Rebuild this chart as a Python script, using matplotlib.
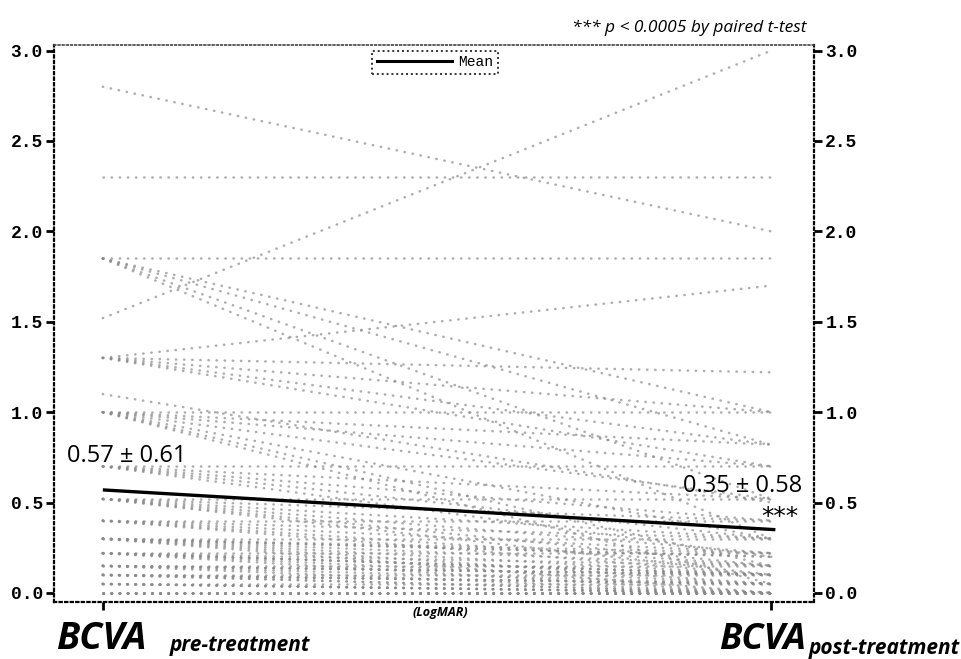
import matplotlib
matplotlib.use("Agg")
import matplotlib.pyplot as plt
from matplotlib.lines import Line2D

# Paired BCVA (LogMAR) values per eye: pre-treatment -> post-treatment
pre = [2.8, 2.3, 1.85, 1.85, 1.85, 1.85, 1.85, 1.52,
       1.3, 1.3, 1.3, 1.3, 1.3, 1.1,
       1.0, 1.0, 1.0, 1.0, 1.0, 1.0, 1.0,
       0.7, 0.7, 0.7, 0.7, 0.7,
       0.52, 0.52, 0.52, 0.52, 0.52, 0.52,
       0.4, 0.4, 0.4, 0.4, 0.4,
       0.3, 0.3, 0.3, 0.3, 0.3, 0.3, 0.3, 0.3,
       0.22, 0.22, 0.22, 0.22, 0.22, 0.22, 0.22,
       0.15, 0.15, 0.15, 0.15, 0.15, 0.15,
       0.1, 0.1, 0.1, 0.1, 0.1, 0.1,
       0.05, 0.05, 0.05, 0.05, 0.05,
       0.0, 0.0, 0.0, 0.0, 0.0, 0.0, 0.0]
post = [2.0, 2.3, 1.85, 1.0, 0.82, 0.52, 0.3, 3.0,
        1.7, 1.22, 1.0, 0.82, 0.7, 0.5,
        1.0, 0.82, 0.7, 0.52, 0.3, 0.15, 0.05,
        0.7, 0.52, 0.4, 0.3, 0.2,
        0.52, 0.4, 0.3, 0.22, 0.15, 0.1,
        0.4, 0.3, 0.22, 0.15, 0.1,
        0.3, 0.22, 0.15, 0.1, 0.05, 0.0, 0.2, 0.2,
        0.22, 0.15, 0.1, 0.05, 0.0, 0.1, 0.1,
        0.15, 0.1, 0.05, 0.0, 0.1, 0.1,
        0.1, 0.05, 0.0, 0.0, 0.05, 0.05,
        0.05, 0.0, 0.0, 0.0, 0.0,
        0.0, 0.0, 0.0, 0.0, 0.0, 0.0, 0.0]
mean_pre, sd_pre = 0.57, 0.61
mean_post, sd_post = 0.35, 0.58
yticks = [0.0, 0.5, 1.0, 1.5, 2.0, 2.5, 3.0]

fig = plt.figure(figsize=(9.61, 6.59), dpi=100)
ax = fig.add_axes([0.0562, 0.0865, 0.791, 0.845])

for a, b in zip(pre, post):
    ax.plot([0, 1], [a, b], color="#8a8a8a", lw=1.8, alpha=0.7,
            linestyle=(0, (0.15, 3.1)), solid_capstyle="round", dash_capstyle="round")

ax.plot([0, 1.006], [mean_pre, mean_post], color="black", lw=2.4, solid_capstyle="butt")

ax.set_xlim(-0.073, 1.064)
ax.set_ylim(-0.05, 3.03)
ax.set_xticks([0, 1])
ax.set_xticklabels(["", ""])
ax.set_yticks(yticks)
ax.set_yticklabels([f"{v:.1f}" for v in yticks])
ax.tick_params(axis="y", which="both", direction="out", length=6, width=2,
               left=True, right=True, labelleft=True, labelright=True, pad=2)
ax.tick_params(axis="x", direction="out", length=6, width=2)
for t in ax.yaxis.get_major_ticks():
    for lab in (t.label1, t.label2):
        lab.set_fontfamily("Liberation Mono")
        lab.set_fontweight("bold")
        lab.set_fontsize(13)

for s in ax.spines.values():
    s.set_linestyle((0, (1, 1.5)))
    s.set_linewidth(1.6)
    s.set_color("black")
ax.spines["top"].set_linewidth(1.2)
ax.spines["top"].set_color("#444444")

leg = ax.legend(handles=[Line2D([0], [0], color="black", lw=2.2)], labels=["Mean"],
                loc="upper center", bbox_to_anchor=(0.501, 1.003), frameon=True,
                fancybox=False, handlelength=5.2, handletextpad=0.4,
                borderpad=0.3, prop={"family": "Liberation Mono", "size": 10.5})
fr = leg.get_frame()
fr.set_linestyle((0, (1, 1.5)))
fr.set_linewidth(1.4)
fr.set_edgecolor("black")

sans = "Open Sans"
ax.text(-0.054, 0.76, f"{mean_pre:.2f} ± {sd_pre:.2f}", fontsize=17,
        family=sans, ha="left", va="center")
ax.text(1.046, 0.59, f"{mean_post:.2f} ± {sd_post:.2f}", fontsize=17,
        family=sans, ha="right", va="center")
ax.text(1.013, 0.42, "***", fontsize=18, family="DejaVu Sans", ha="center", va="center")

fig.text(0.839, 0.958, "*** p < 0.0005 by paired t-test", fontsize=12.5,
         family=sans, style="italic", ha="right", va="center")
fig.text(0.458, 0.071, "(LogMAR)", fontsize=9, family=sans, style="italic",
         weight="bold", ha="center", va="center")

fig.text(0.058, 0.015, "BCVA", fontsize=27, family=sans, style="italic",
         weight="bold", ha="left", va="baseline")
fig.text(0.177, 0.012, "pre-treatment", fontsize=15, family=sans, style="italic",
         weight="bold", ha="left", va="baseline")
fig.text(0.748, 0.015, "BCVA", fontsize=26, family=sans, style="italic",
         weight="bold", ha="left", va="baseline")
fig.text(0.842, 0.008, "post-treatment", fontsize=15, family=sans, style="italic",
         weight="bold", ha="left", va="baseline")

fig.savefig("out.png", dpi=100, facecolor="white")
